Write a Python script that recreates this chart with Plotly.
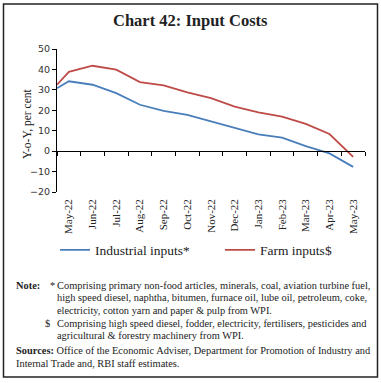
import plotly.graph_objects as go

months = ["May-22", "Jun-22", "Jul-22", "Aug-22", "Sep-22", "Oct-22", "Nov-22",
          "Dec-22", "Jan-23", "Feb-23", "Mar-23", "Apr-23", "May-23"]
industrial = [34.2, 32.5, 28.4, 22.7, 19.7, 17.7, 14.5, 11.2, 8.2, 6.6, 2.5, -1.1, -7.7]
farm = [38.8, 41.8, 39.9, 33.8, 32.2, 28.8, 26.0, 21.8, 19.0, 16.9, 13.3, 8.4, -2.8]
industrial_start = 30.8
farm_start = 32.5
y_ticks = [-20, -10, 0, 10, 20, 30, 40, 50]

W, H = 381, 383
L, R, T, B = 57, 365, 49, 192  # plot area in pixels


def px(x):
    return (x - L) / (R - L)


def py(y):
    return (B - y) / (B - T)


SERIF = "Liberation Serif"
SANS = "DejaVu Sans"
TXT = "#222222"

xs = [-0.5] + list(range(len(months)))

fig = go.Figure()
fig.add_trace(go.Scatter(x=xs, y=[industrial_start] + industrial, mode="lines",
                         name="Industrial inputs*", legend="legend",
                         line=dict(color="#4A7EBB", width=1.8)))
fig.add_trace(go.Scatter(x=xs, y=[farm_start] + farm, mode="lines",
                         name="Farm inputs$", legend="legend2",
                         line=dict(color="#BE4B48", width=1.8)))
fig.add_trace(go.Scatter(x=[None], y=[None], xaxis="x2", showlegend=False,
                         hoverinfo="skip"))

xrange = [-0.5, len(months) - 0.5]
legend_common = dict(orientation="h", yanchor="middle", xanchor="left",
                     font=dict(family=SERIF, size=13.5, color=TXT),
                     itemwidth=30, bgcolor="rgba(0,0,0,0)")
fig.update_layout(
    width=W, height=H,
    margin=dict(l=L, r=W - R, t=T, b=H - B),
    paper_bgcolor="white", plot_bgcolor="white",
    showlegend=True,
    xaxis=dict(range=xrange, tickmode="array", tickvals=list(range(len(months))),
               ticktext=months, tickangle=-90, ticks="", showline=False,
               showgrid=False, zeroline=False, ticklabelstandoff=4,
               tickfont=dict(family=SERIF, size=11, color=TXT)),
    xaxis2=dict(range=xrange, overlaying="x", anchor="free",
                position=(0 - y_ticks[0]) / (y_ticks[-1] - y_ticks[0]),
                showline=True, linecolor="#000000", linewidth=1,
                ticks="outside", ticklen=4, tickcolor="#000000",
                tickmode="array", tickvals=[i - 0.5 for i in range(len(months) + 1)],
                showticklabels=False, showgrid=False, zeroline=False),
    yaxis=dict(range=[y_ticks[0], y_ticks[-1]], tickmode="array", tickvals=y_ticks,
               showline=True, linecolor="#000000", linewidth=1,
               ticks="outside", ticklen=4, tickcolor="#000000",
               showgrid=False, zeroline=False,
               tickfont=dict(family=SANS, size=9.5, color="#333333")),
    legend=dict(x=px(55), y=py(250), **legend_common),
    legend2=dict(x=px(220), y=py(250), **legend_common),
)

annotations = [
    dict(text="<b>Chart 42: Input Costs</b>", x=px(190), y=py(20),
         font=dict(family=SERIF, size=16.5, color=TXT), xanchor="center", yanchor="middle"),
    dict(text="Y-o-Y, per cent", x=px(27), y=py(124), textangle=-90,
         font=dict(family=SERIF, size=11.5, color=TXT), xanchor="center", yanchor="middle"),
]

notes = [
    (14, 285, "<b>Note:</b>"),
    (48, 285, "*"),
    (55, 285, "Comprising primary non-food articles, minerals, coal, aviation turbine fuel,"),
    (55, 297, "high speed diesel, naphtha, bitumen, furnace oil, lube oil, petroleum, coke,"),
    (55, 310, "electricity, cotton yarn and paper &amp; pulp from WPI."),
    (43, 323, "$"),
    (55, 323, "Comprising high speed diesel, fodder, electricity, fertilisers, pesticides and"),
    (55, 335, "agricultural &amp; forestry machinery from WPI."),
    (14, 350, "<b>Sources:</b> Office of the Economic Adviser, Department for Promotion of Industry and"),
    (14, 363, "Internal Trade and, RBI staff estimates."),
]
for x, y, t in notes:
    annotations.append(dict(text=t, x=px(x), y=py(y), xanchor="left", yanchor="middle",
                            font=dict(family=SERIF, size=10.4, color=TXT)))

for a in annotations:
    a.update(xref="paper", yref="paper", showarrow=False)
fig.update_layout(annotations=annotations)

fig.add_shape(type="rect", xref="paper", yref="paper",
              x0=px(3.5), x1=px(377.5), y0=py(377), y1=py(4),
              line=dict(color="#222222", width=1.5), fillcolor="rgba(0,0,0,0)")

fig.write_html("out.html", config={"displayModeBar": False},
               post_script="document.body.style.margin='0';")
